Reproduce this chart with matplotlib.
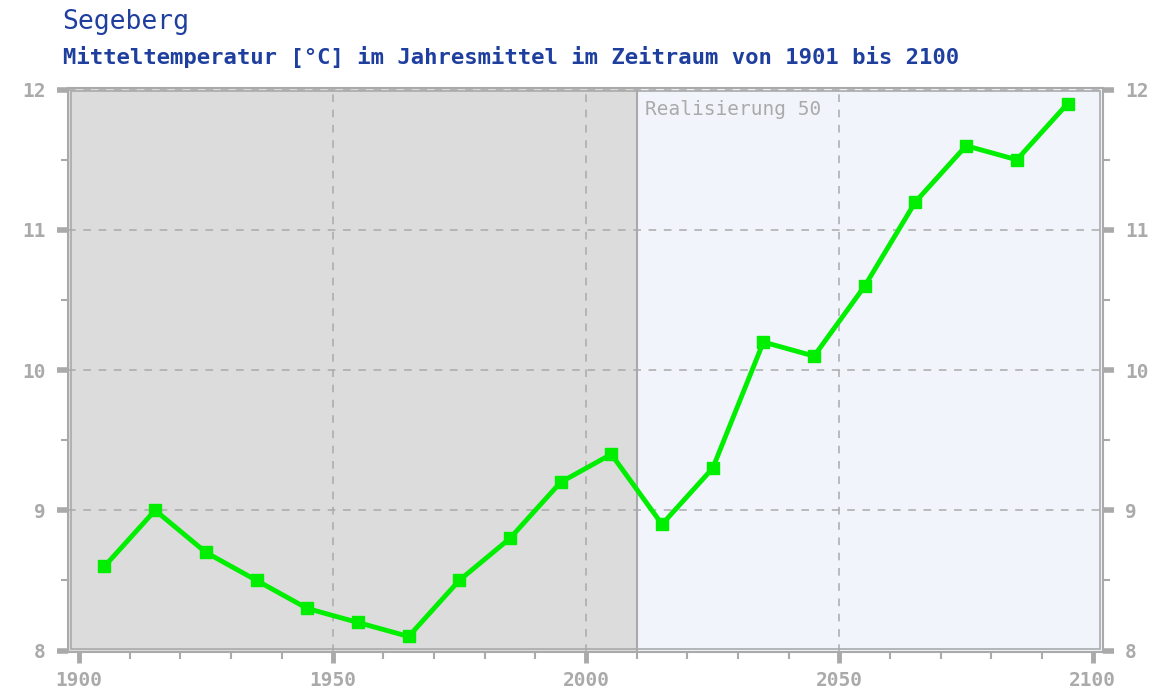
import matplotlib
matplotlib.use("Agg")
import matplotlib.pyplot as plt
from matplotlib.patches import Rectangle
from matplotlib.ticker import MultipleLocator
import numpy as np

# decade means, plotted at mid-decade
years = [1905, 1915, 1925, 1935, 1945, 1955, 1965, 1975, 1985, 1995,
         2005, 2015, 2025, 2035, 2045, 2055, 2065, 2075, 2085, 2095]
temps = [8.6, 9.0, 8.7, 8.5, 8.3, 8.2, 8.1, 8.5, 8.8, 9.2,
         9.4, 8.9, 9.3, 10.2, 10.1, 10.6, 11.2, 11.6, 11.5, 11.9]
split_year = 2010
title = "Segeberg"
subtitle = "Mitteltemperatur [°C] im Jahresmittel im Zeitraum von 1901 bis 2100"
label = "Realisierung 50"

grey = "#aaaaaa"
blue = "#1f3f9f"
mono = ["DejaVu Sans Mono"]

fig = plt.figure(figsize=(11.58, 6.95), dpi=100)
ax = fig.add_axes([0.0587, 0.062, 0.8938, 0.811])
x0, x1 = 1897.8, 2102
y0, y1 = 7.99, 12.01
ax.set_xlim(x0, x1)
ax.set_ylim(y0, y1)

ax.axvspan(x0, split_year, color="#dcdcdc", zorder=0)
ax.axvspan(split_year, x1, color="#f1f4fa", zorder=0)
ax.axvline(split_year, color=grey, lw=1.5, zorder=1)

for xv in [1950, 2000, 2050]:
    ax.axvline(xv, color=grey, lw=1.1, ls=(0, (5, 5)), zorder=1)
for yv in [9, 10, 11, 12]:
    ax.axhline(yv, color=grey, lw=1.1, ls=(0, (5, 5)), zorder=1)

ax.plot(years, temps, color="#00ee00", lw=3.5, marker="s", ms=8, zorder=3)

ax.text(2011.6, 11.86, label, color=grey, fontsize=14, family=mono, va="center")

for s in ax.spines.values():
    s.set_color(grey)
    s.set_linewidth(1.5)
# inner double frame line
ax.add_patch(Rectangle((0.003, 0.005), 0.994, 0.99, transform=ax.transAxes,
                       fill=False, ec=grey, lw=1.2, zorder=4))

ax.xaxis.set_major_locator(MultipleLocator(50))
ax.xaxis.set_minor_locator(MultipleLocator(10))
ax.yaxis.set_major_locator(MultipleLocator(1))
ax.yaxis.set_minor_locator(MultipleLocator(0.5))
ax.tick_params(axis="x", which="major", direction="out", length=8, width=3.5,
               color=grey, labelcolor=grey, labelsize=14, pad=6)
ax.tick_params(axis="x", which="minor", direction="out", length=5, width=1.5, color=grey)
ax.tick_params(axis="y", which="major", direction="out", length=8, width=4,
               color=grey, labelcolor=grey, labelsize=14, pad=8,
               left=True, right=True, labelleft=True, labelright=True)
ax.tick_params(axis="y", which="minor", direction="out", length=5, width=1.5,
               color=grey, left=True, right=True)
for lab in ax.get_xticklabels() + ax.get_yticklabels():
    lab.set_family(mono)
    lab.set_fontweight("bold")

fig.text(0.054, 0.968, title, color=blue, fontsize=19, family=mono, va="center")
fig.text(0.054, 0.918, subtitle, color=blue, fontsize=16, family=mono,
         fontweight="bold", va="center")

fig.savefig("out.png", dpi=100)
